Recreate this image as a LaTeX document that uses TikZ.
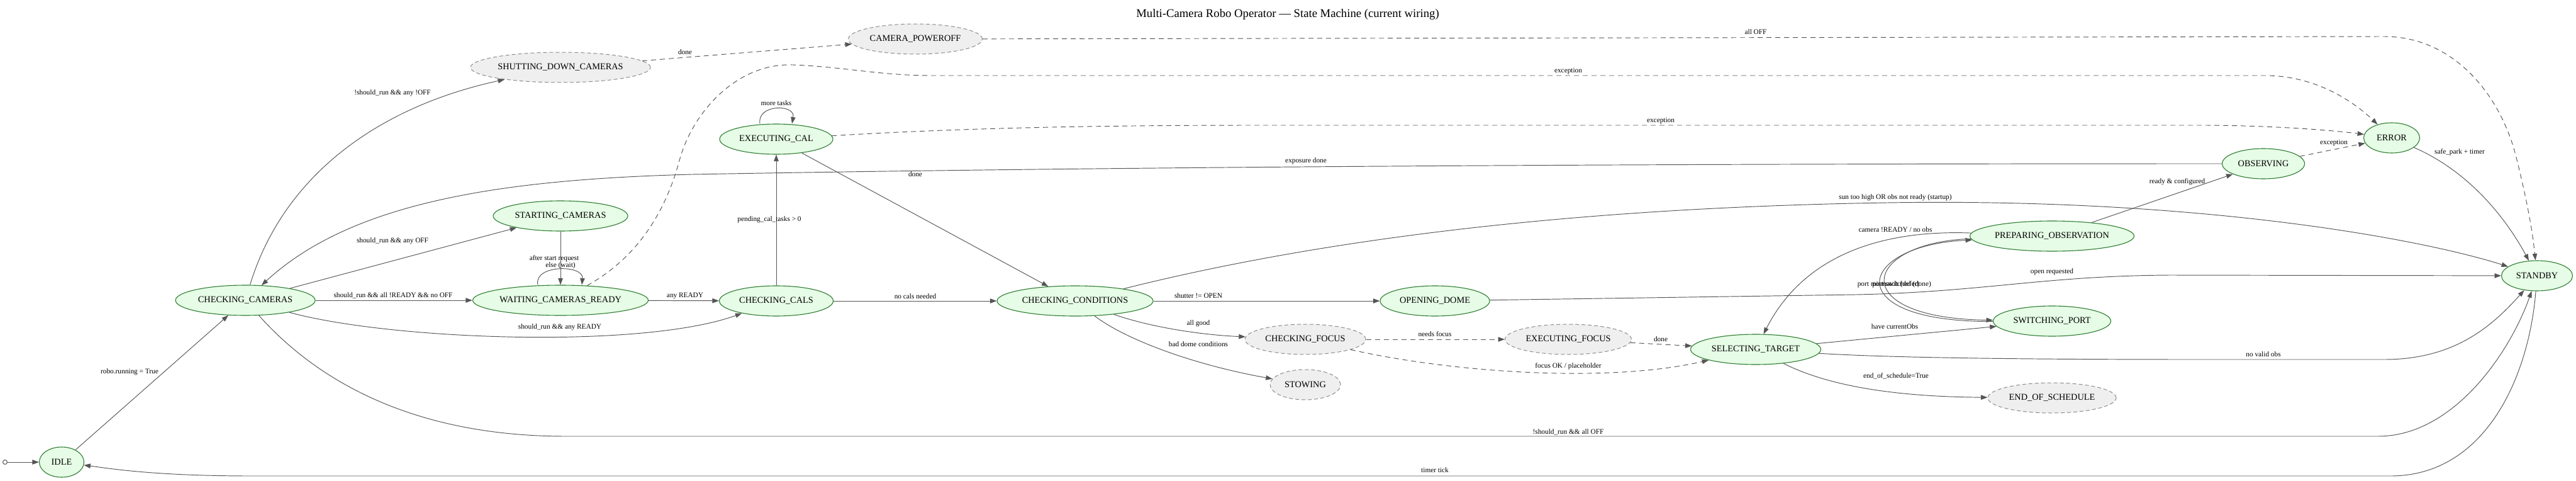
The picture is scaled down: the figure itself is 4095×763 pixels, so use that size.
\documentclass[tikz,border=0pt]{standalone}
\usepackage{fontspec}
\setmainfont{Liberation Serif}
\usepackage{tikz}
\usetikzlibrary{arrows.meta,shapes.geometric}
\definecolor{okfill}{HTML}{E6FCE6}
\definecolor{okline}{HTML}{2E7D32}
\definecolor{tbdfill}{HTML}{EFEFEF}
\definecolor{tbdline}{HTML}{8C8C8C}
\definecolor{wire}{HTML}{555555}
\tikzset{
    ok/.style={
           ellipse,
           draw=okline, line width=1.1pt,
           fill=okfill,
           inner sep=0pt,
           minimum height=48pt,
           font=\fontsize{14.3}{16}\selectfont,
           },
}
\tikzset{
    tbd/.style={
           ellipse,
           draw=tbdline, line width=1pt, dash pattern=on 6pt off 4pt,
           fill=tbdfill,
           inner sep=0pt,
           minimum height=48pt,
           font=\fontsize{14.3}{16}\selectfont,
           },
}
\tikzset{
    ln/.style={draw=wire, line width=0.95pt, -{Triangle[length=10.5pt,width=7.5pt]}},
    dln/.style={ln, dash pattern=on 8pt off 6pt},
    lb/.style={font=\fontsize{11.3}{13}\selectfont, inner sep=0pt},
}

\begin{document}
\begin{tikzpicture}[x=1pt, y=-1pt]
\useasboundingbox (0,0) rectangle (4095,763);
\node[font=\fontsize{18.7}{22}\selectfont] (title) at (2047,23) {Multi-Camera Robo Operator --- State Machine (current wiring)};
\node[circle, draw=wire, line width=1pt, inner sep=0pt, minimum size=7pt] (init) at (8,734) {};
\node[ok, minimum width=71pt] (idle) at (98,734) {IDLE};
\node[ok, minimum width=222pt] (ckcam) at (390,477) {CHECKING\_CAMERAS};
\node[tbd, minimum width=286pt] (shut) at (891,107) {SHUTTING\_DOWN\_CAMERAS};
\node[ok, minimum width=214pt] (start) at (891,343) {STARTING\_CAMERAS};
\node[ok, minimum width=279pt] (wait) at (891,477) {WAITING\_CAMERAS\_READY};
\node[ok, minimum width=181pt] (ckcal) at (1234,478) {CHECKING\_CALS};
\node[ok, minimum width=180pt] (excal) at (1234,221) {EXECUTING\_CAL};
\node[tbd, minimum width=213pt] (poweroff) at (1455,62) {CAMERA\_POWEROFF};
\node[ok, minimum width=248pt] (ckcond) at (1709,478) {CHECKING\_CONDITIONS};
\node[ok, minimum width=174pt] (opdome) at (2281,478) {OPENING\_DOME};
\node[tbd, minimum width=192pt] (ckfocus) at (2075,539) {CHECKING\_FOCUS};
\node[tbd, minimum width=201pt] (exfocus) at (2493,539) {EXECUTING\_FOCUS};
\node[tbd, minimum width=112pt] (stow) at (2075,611) {STOWING};
\node[ok, minimum width=207pt] (seltgt) at (2791,555) {SELECTING\_TARGET};
\node[ok, minimum width=187pt] (swport) at (3262,510) {SWITCHING\_PORT};
\node[tbd, minimum width=204pt] (eos) at (3262,632) {END\_OF\_SCHEDULE};
\node[ok, minimum width=261pt] (prep) at (3262,375) {PREPARING\_OBSERVATION};
\node[ok, minimum width=131pt] (obs) at (3598,260) {OBSERVING};
\node[ok, minimum width=89pt] (err) at (3802,219) {ERROR};
\node[ok, minimum width=113pt] (standby) at (4033,438) {STANDBY};

\draw[ln] (init) -- (idle);
\draw[ln] (idle) -- (ckcam) node[lb] (t1) at (206,591) {robo.running = True};
\draw[ln] (ckcam) .. controls (450,280) and (600,170) .. (shut) node[lb] (t2) at (624,148) {!should\_run \&\& any !OFF};
\draw[ln] (ckcam) -- (start) node[lb] (t3) at (624,383) {should\_run \&\& any OFF};
\draw[ln] (ckcam) -- (wait) node[lb] (t4) at (625,469) {should\_run \&\& all !READY \&\& no OFF};
\draw[ln] (ckcam) .. controls (620,540) and (1020,555) .. (ckcal) node[lb] (t5) at (890,520) {should\_run \&\& any READY};
\draw[ln] (ckcam) .. controls (500,600) and (650,693) .. (900,693) -- (3780,693) .. controls (3900,693) and (3990,560) .. (standby) node[lb] (t6) at (2493,686) {!should\_run \&\& all OFF};
\draw[ln] (start) -- (wait) node[lb] (t7) at (881,411) {after start request};
\draw[ln] ([xshift=-36pt]wait.north) .. controls (848,420) and (928,420) .. ([xshift=34pt]wait.north) node[lb] (t8) at (891,422) {else (wait)};
\draw[ln] (wait) -- (ckcal) node[lb] (t9) at (1089,470) {any READY};
\draw[dln] (wait) .. controls (1030,400) and (1065,310) .. (1080,255) .. controls (1100,180) and (1170,100) .. (1260,103) .. controls (1340,106) and (1400,120) .. (1480,120) -- (3600,120) .. controls (3680,120) and (3740,160) .. (err) node[lb] (t10) at (2493,113) {exception};
\draw[ln] (ckcal) -- (excal) node[lb] (t11) at (1223,349) {pending\_cal\_tasks > 0};
\draw[ln] (ckcal) -- (ckcond) node[lb] (t12) at (1455,471) {no cals needed};
\draw[ln] ([xshift=-26pt]excal.north) .. controls (1203,165) and (1265,165) .. ([xshift=25pt]excal.north) node[lb] (t13) at (1234,164) {more tasks};
\draw[ln] (excal) -- (ckcond) node[lb] (t14) at (1455,277) {done};
\draw[dln] (excal) .. controls (1500,205) and (1700,199) .. (2000,199) -- (3500,199) .. controls (3600,199) and (3700,206) .. (err) node[lb] (t15) at (2640,192) {exception};
\draw[dln] (shut) -- (poweroff) node[lb] (t16) at (1089,83) {done};
\draw[dln] (poweroff) -- (3790,58) .. controls (3900,58) and (3975,150) .. (4000,250) .. controls (4015,310) and (4025,360) .. (standby) node[lb] (t17) at (2791,51) {all OFF};
\draw[ln] (obs) .. controls (2500,260) and (1700,266) .. (1100,277) .. controls (800,285) and (560,320) .. (ckcam) node[lb] (t18) at (2076,256) {exposure done};
\draw[ln] (ckcond) .. controls (2100,380) and (2500,330) .. (3000,322) .. controls (3500,314) and (3850,380) .. (standby) node[lb] (t19) at (3013,314) {sun too high OR obs not ready (startup)};
\draw[ln] (ckcond) -- (opdome) node[lb] (t20) at (1905,470) {shutter != OPEN};
\draw[ln] (ckcond) .. controls (1830,520) and (1910,532) .. (ckfocus) node[lb] (t21) at (1905,514) {all good};
\draw[ln] (ckcond) .. controls (1790,540) and (1900,580) .. (stow) node[lb] (t22) at (1905,547) {bad dome conditions};
\draw[ln] (opdome) -- (2950,468) .. controls (3150,464) and (3250,438) .. (3450,437) -- (standby) node[lb] (t23) at (3262,432) {open requested};
\draw[dln] (ckfocus) -- (exfocus) node[lb] (t24) at (2281,531) {needs focus};
\draw[dln] (ckfocus) .. controls (2300,590) and (2550,610) .. (seltgt) node[lb] (t25) at (2493,582) {focus OK / placeholder};
\draw[dln] (exfocus) -- (seltgt) node[lb] (t26) at (2640,539) {done};
\draw[ln] (seltgt) -- (swport) node[lb] (t27) at (3012,519) {have currentObs};
\draw[ln] (seltgt) .. controls (3000,568) and (3200,571) .. (3500,571) -- (3790,571) .. controls (3900,571) and (3960,520) .. (standby) node[lb] (t28) at (3598,563) {no valid obs};
\draw[ln] (seltgt) .. controls (2900,610) and (3000,630) .. (eos) node[lb] (t29) at (3014,597) {end\_of\_schedule=True};
\draw[ln] (prep) .. controls (3000,365) and (2870,400) .. (seltgt) node[lb] (t30) at (3013,365) {camera !READY / no obs};
\draw[ln] (prep) .. controls (2960,385) and (2930,505) .. (swport) node[lb] (t31) at (3002,452) {port mismatch (defer)};
\draw[ln] (swport) .. controls (2920,512) and (2950,390) .. (prep) node[lb] (t32) at (3023,452) {port switched (done)};
\draw[ln] (prep) -- (obs) node[lb] (t33) at (3461,289) {ready \& configured};
\draw[dln] (obs) -- (err) node[lb] (t34) at (3710,227) {exception};
\draw[ln] (err) .. controls (3920,270) and (3980,340) .. (standby) node[lb] (t35) at (3910,242) {safe\_park + timer};
\draw[ln] (standby) .. controls (4020,600) and (3950,756) .. (3800,756) -- (400,756) .. controls (250,756) and (180,745) .. (idle) node[lb] (t36) at (2281,747) {timer tick};
\end{tikzpicture}
\end{document}
